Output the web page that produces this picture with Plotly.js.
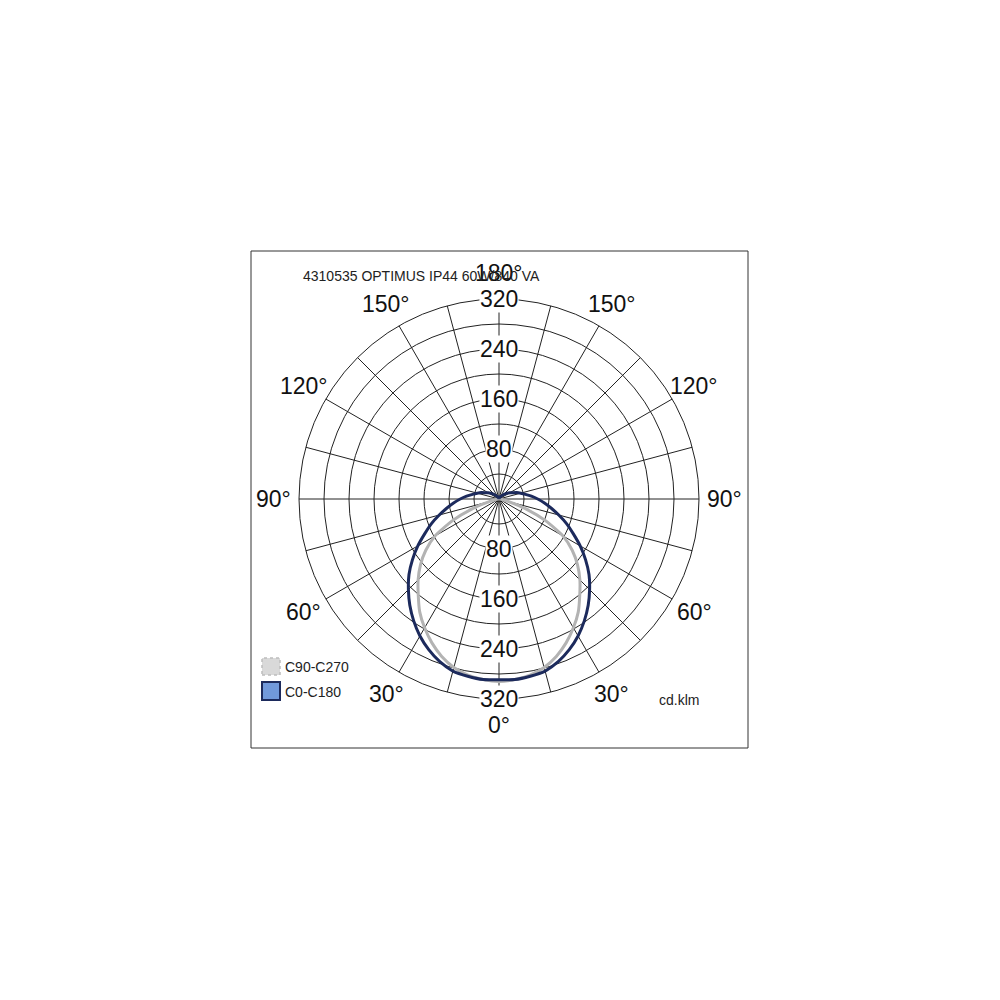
<!DOCTYPE html>
<html>
<head>
<meta charset="utf-8">
<script src="https://cdn.plot.ly/plotly-3.0.1.min.js"></script>
<style>
  html, body { margin: 0; padding: 0; background: #ffffff; }
  #chart { width: 1000px; height: 1000px; }
</style>
</head>
<body>
<div id="chart"></div>
<script>
// ---- data (cd/klm vs. gamma angle) ----
const gammaDeg = [0,5,10,15,20,25,30,35,40,45,50,55,60,65,70,75,80,85,90,95,100,105,110,115,120,125,130,135,140,145,150,155,160,165,170,175,180];
const c0c180 = [289,290,288,285,277,266,253,238,222,205,188,169,150,131,115,99,85,73,62,52,43,36,30,24,20,16,12,9,7,5,3,2,1.5,1,0.5,0.2,0];
const c90c270 = [292,290,286,279,268,254,238,221,201,183,164,143,118,82,45,15,5,2,0,0,0,0,0,0,0,0,0,0,0,0,0,0,0,0,0,0,0];
const seriesNames = ['C90-C270', 'C0-C180'];
const ringValues = [40,80,120,160,200,240,280,320];
const radialLabelValues = [80,160,240,320];
const spokeAngles = [0,15,30,45,60,75,90,105,120,135,150,165,180,195,210,225,240,255,270,285,300,315,330,345];
const angleLabelTheta = [0,30,60,90,120,150,180,210,240,270,300,330];
const angleLabelText = ['0°','30°','60°','90°','120°','150°','180°','150°','120°','90°','60°','30°'];
const chartTitle = '4310535 OPTIMUS IP44 60W/840 VA';
const unitLabel = 'cd.klm';

// ---- styling / layout constants ----
const FONT = '"Liberation Sans", Arial, sans-serif';
const RMAX = 320;
const CX = 0.499, CY = 0.501, RAD = 0.2;     // polar centre and radius in paper units
const LABEL_R = 361;                           // angle labels sit just outside the grid
const navy = '#1c2a5c';
const grey = '#b3b3b3';

// full circle: C0 side (right) and C180 side (left) mirrored
function mirror(vals) {
  const theta = gammaDeg.slice();
  const r = vals.slice();
  for (let i = gammaDeg.length - 2; i >= 0; i--) {
    theta.push(360 - gammaDeg[i]);
    r.push(vals[i]);
  }
  return {theta, r};
}

const g = mirror(c90c270);
const n = mirror(c0c180);

const traces = [
  {
    type: 'scatterpolar', mode: 'lines', name: seriesNames[0],
    r: g.r, theta: g.theta,
    line: {color: grey, width: 3, shape: 'spline', smoothing: 0.6},
    showlegend: false, hoverinfo: 'skip'
  },
  {
    type: 'scatterpolar', mode: 'lines', name: seriesNames[1],
    r: n.r, theta: n.theta,
    line: {color: navy, width: 3, shape: 'spline', smoothing: 0.6},
    showlegend: false, hoverinfo: 'skip'
  }
];

const annotations = [];
// angle labels (0° at the bottom, counter-clockwise)
angleLabelTheta.forEach((t, i) => {
  const a = t * Math.PI / 180;
  const rr = LABEL_R / RMAX * RAD;
  annotations.push({
    xref: 'paper', yref: 'paper',
    x: CX + rr * Math.sin(a), y: CY - rr * Math.cos(a),
    text: angleLabelText[i], showarrow: false, xanchor: 'center', yanchor: 'middle',
    font: {family: FONT, size: 23, color: '#111111'}
  });
});
// radial value labels on the vertical axis (both directions)
radialLabelValues.forEach(v => {
  [1, -1].forEach(s => {
    annotations.push({
      xref: 'paper', yref: 'paper', x: CX, y: CY + s * v / RMAX * RAD,
      text: String(v), showarrow: false, xanchor: 'center', yanchor: 'middle',
      font: {family: FONT, size: 23, color: '#111111'},
      bgcolor: '#ffffff', borderpad: 0
    });
  });
});
annotations.push({
  xref: 'paper', yref: 'paper', x: 0.301, y: 1 - 0.276, xanchor: 'left', yanchor: 'middle',
  text: chartTitle, showarrow: false, font: {family: FONT, size: 14, color: '#222222'}
});
annotations.push({
  xref: 'paper', yref: 'paper', x: 0.283, y: 1 - 0.667, xanchor: 'left', yanchor: 'middle',
  text: seriesNames[0], showarrow: false, font: {family: FONT, size: 14, color: '#222222'}
});
annotations.push({
  xref: 'paper', yref: 'paper', x: 0.283, y: 1 - 0.692, xanchor: 'left', yanchor: 'middle',
  text: seriesNames[1], showarrow: false, font: {family: FONT, size: 14, color: '#222222'}
});
annotations.push({
  xref: 'paper', yref: 'paper', x: 0.657, y: 1 - 0.700, xanchor: 'left', yanchor: 'middle',
  text: unitLabel, showarrow: false, font: {family: FONT, size: 14, color: '#222222'}
});

const shapes = [
  {type: 'rect', xref: 'paper', yref: 'paper', x0: 0.251, x1: 0.748, y0: 1 - 0.748, y1: 1 - 0.251,
   line: {color: '#333333', width: 1}, fillcolor: 'rgba(0,0,0,0)'},
  {type: 'rect', xref: 'paper', yref: 'paper', x0: 0.262, x1: 0.280, y0: 1 - 0.675, y1: 1 - 0.658,
   line: {color: '#bdbdbd', width: 1.5, dash: 'dot'}, fillcolor: '#d9d9d9'},
  {type: 'rect', xref: 'paper', yref: 'paper', x0: 0.262, x1: 0.280, y0: 1 - 0.700, y1: 1 - 0.682,
   line: {color: navy, width: 2}, fillcolor: '#7199db'}
];

const layout = {
  width: 1000, height: 1000,
  margin: {l: 0, r: 0, t: 0, b: 0},
  paper_bgcolor: '#ffffff',
  showlegend: false,
  polar: {
    domain: {x: [CX - RAD, CX + RAD], y: [CY - RAD, CY + RAD]},
    bgcolor: '#ffffff',
    radialaxis: {
      range: [0, RMAX], tickmode: 'array', tickvals: ringValues,
      showticklabels: false, ticks: '', showline: false,
      gridcolor: '#222222', gridwidth: 1
    },
    angularaxis: {
      rotation: -90, direction: 'counterclockwise',
      tickmode: 'array', tickvals: spokeAngles, showticklabels: false, ticks: '',
      showline: true, linecolor: '#222222', linewidth: 1,
      gridcolor: '#222222', gridwidth: 1
    }
  },
  annotations: annotations,
  shapes: shapes
};

Plotly.newPlot('chart', traces, layout, {staticPlot: true, displayModeBar: false});
</script>
</body>
</html>
